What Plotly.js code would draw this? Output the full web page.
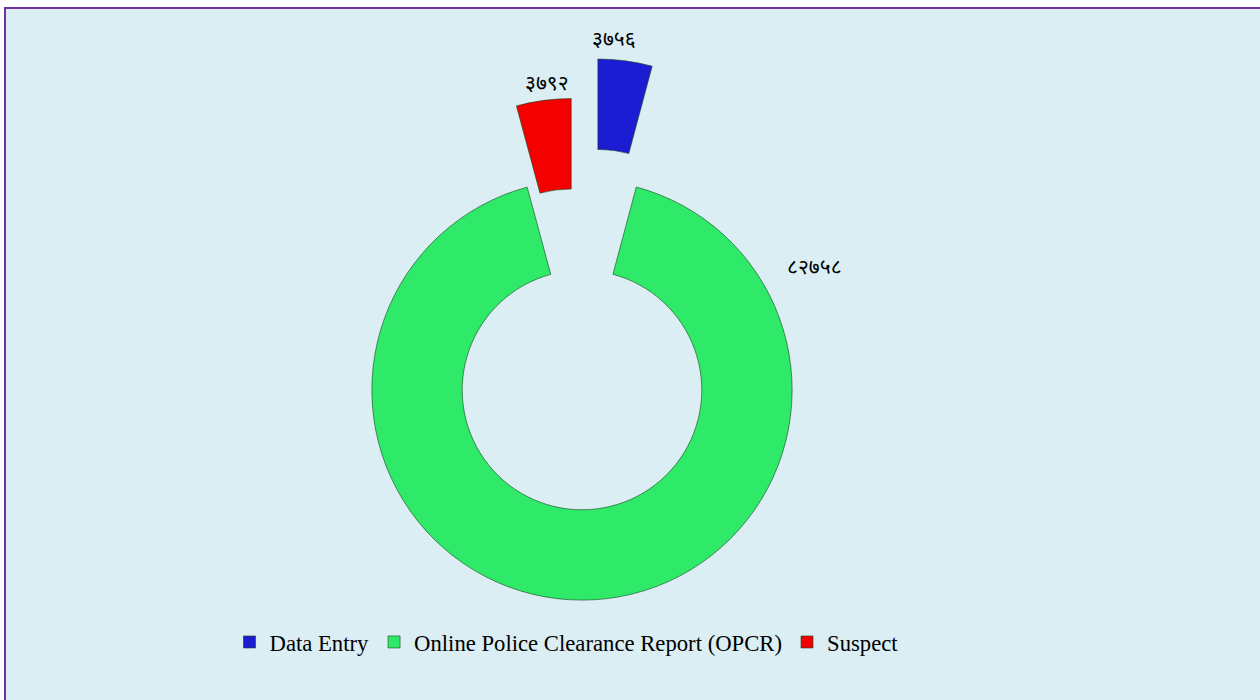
<!DOCTYPE html>
<html>
<head>
<meta charset="utf-8">
<script src="https://cdn.plot.ly/plotly-3.0.1.min.js"></script>
<style>
  html, body { margin: 0; padding: 0; width: 1260px; height: 700px; overflow: hidden; background: #fff; }
  #frame { position: absolute; left: 4px; top: 7px; width: 1280px; height: 720px;
           background: #DAEEF3; border-left: 2px solid #7030A0; border-top: 2px solid #7030A0; }
  #plot { position: absolute; left: 0; top: 0; width: 1260px; height: 760px; }
</style>
</head>
<body>
<div id="frame"></div>
<div id="plot"></div>
<script>
// chart values
var categories = ['Data Entry', 'Online Police Clearance Report (OPCR)', 'Suspect'];
var counts = [3756, 82758, 3792];
var sliceColors = ['#1c1cd2', '#2eea68', '#f40000'];
var pulls = [0.58, 0, 0.39];

// where each value label sits (paper coords), as in the original
var labelX = [0.4873, 0.6468, 0.4341];
var labelY = [0.95, 0.65, 0.8921];

var devDigits = ['०', '१', '२', '३', '४', '५', '६', '७', '८', '९'];
function toNepali(n) {
    return String(n).split('').map(function(d) { return devDigits[+d]; }).join('');
}

function initPlot() {
    var data = [{
        type: 'pie',
        labels: categories,
        values: counts,
        textinfo: 'none',
        hole: 0.57,
        pull: pulls,
        sort: false,
        direction: 'clockwise',
        rotation: 0,
        marker: { colors: sliceColors, line: { color: 'rgba(20,70,30,0.6)', width: 1 } },
        domain: { x: [0.1984, 0.7254], y: [0.05, 0.9237] },
        hoverinfo: 'label+value'
    }];

    var notes = counts.map(function(v, i) {
        return {
            x: labelX[i], y: labelY[i], xref: 'paper', yref: 'paper',
            xanchor: 'center', yanchor: 'middle',
            text: toNepali(v),
            showarrow: false,
            font: { family: 'Noto Sans, DejaVu Sans, sans-serif', size: 21, color: '#000' }
        };
    });

    var layout = {
        width: 1260,
        height: 760,
        margin: { l: 0, r: 0, t: 0, b: 0 },
        paper_bgcolor: 'rgba(0,0,0,0)',
        plot_bgcolor: 'rgba(0,0,0,0)',
        showlegend: true,
        legend: {
            orientation: 'h',
            x: 0.4496, xanchor: 'center',
            y: 0.155, yanchor: 'middle',
            font: { family: 'Liberation Serif, Times New Roman, serif', size: 22.7, color: '#000' },
            bgcolor: 'rgba(0,0,0,0)'
        },
        annotations: notes
    };

    Plotly.newPlot('plot', data, layout, { displayModeBar: false });
}

document.addEventListener('DOMContentLoaded', function() {
    initPlot();
});
</script>
</body>
</html>
